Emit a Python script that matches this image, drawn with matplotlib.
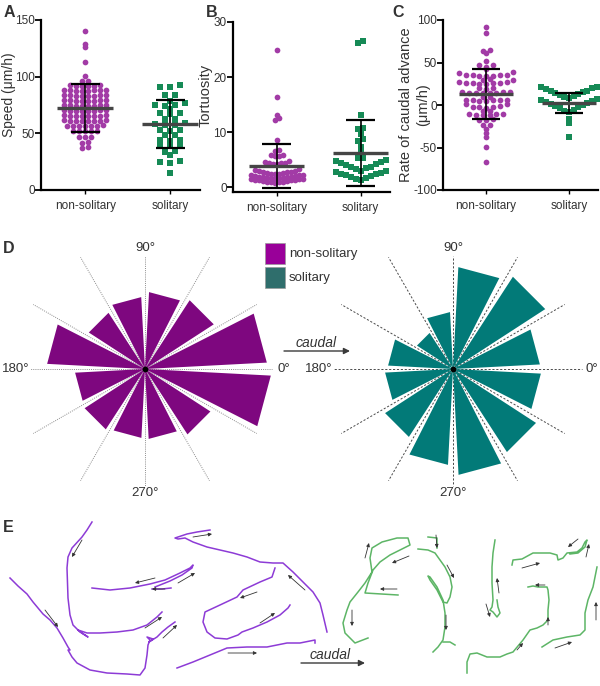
import numpy as np
import matplotlib
matplotlib.use('Agg')
import matplotlib.pyplot as plt

plt.rcParams['font.family'] = ['Liberation Sans', 'DejaVu Sans']
plt.rcParams['axes.unicode_minus'] = False

# ---------------- data ----------------
groups = ['non-solitary', 'solitary']

speed_ns = [140, 129, 126, 113, 101,
            96.5, 95.8,
            92.4, 92.0, 91.7, 92.6, 91.4, 92.2,
            87.8, 88.1, 87.4, 87.9, 88.3, 87.6, 87.2, 88.0,
            83.5, 83.1, 83.8, 82.9, 83.4, 83.0, 83.6, 83.3,
            78.9, 79.2, 78.6, 79.0, 78.8, 79.3, 78.5, 79.1,
            74.6, 74.2, 74.9, 74.4, 74.0, 74.7, 74.3, 74.8,
            70.1, 69.8, 70.3, 69.9, 70.4, 69.6, 70.0, 70.2,
            65.7, 65.4, 65.9, 65.2, 65.6, 65.8, 65.3, 65.5,
            61.2, 61.0, 61.4, 60.8, 61.3, 61.1, 60.9, 61.5,
            56.8, 56.5, 57.0, 56.6, 56.9, 56.4, 56.7,
            52.3, 52.0, 52.5, 51.9, 52.2,
            47.2, 46.8, 47.0,
            42.5, 41.9,
            38.0, 37.3]
speed_sol = [92.5, 91.2, 90.6, 84.0, 83.6, 78.6, 76.8, 75.3, 75.0, 74.2, 71.5,
             68.0, 67.6, 67.1, 63.0, 62.4, 58.8, 58.2, 57.6, 57.0, 53.2, 52.7,
             52.4, 48.8, 48.3, 44.5, 44.0, 43.6, 39.8, 39.4, 39.0, 34.2, 33.6,
             30.9, 25.3, 24.6, 23.4, 14.7]
speed_mean = [72.5, 58.5]
speed_sd = [21.0, 21.0]

tort_ns = [24.9, 16.4, 13.1, 12.5, 12.1, 8.5, 6.7, 6.6, 5.9, 5.8, 5.7, 5.6,
           4.7, 4.6, 4.4, 4.3, 4.3, 4.2, 4.2,
           3.2, 3.1, 3.0, 2.9, 2.8, 2.7, 2.7, 2.6, 2.5, 2.4, 2.4, 2.3, 2.2, 2.2,
           2.1, 2.0, 2.0, 1.9, 1.9, 1.8, 1.8, 1.7, 1.7, 1.6, 1.6, 1.5, 1.5, 1.4,
           1.4, 1.3, 1.3, 1.2, 1.2, 1.1, 1.1, 1.0, 1.0, 0.9, 0.9, 0.8]
tort_sol = [26.5, 26.1, 13.1, 10.7, 10.6, 9.6, 8.7, 8.4, 7.3, 6.4,
            5.3, 5.2, 4.9, 4.8, 4.5, 4.4, 4.1, 4.0, 3.7, 3.6, 3.4, 3.3, 3.0,
            2.9, 2.7, 2.6, 2.4, 2.3, 2.1, 2.0, 1.8, 1.7, 1.5, 1.3]
tort_mean = [3.8, 6.1]
tort_sd = [4.0, 6.0]

caud_ns = [92.2, 84.3, 64.7, 63.5, 60.8, 51.8, 47.5, 47.0, 45.0, 42.4,
           39.0, 38.2,
           35.8, 35.3, 34.6, 34.0, 35.0, 34.4, 35.5,
           30.5, 30.0, 29.2,
           26.8, 26.2, 25.5, 25.0, 24.6, 26.0, 25.3, 26.5,
           20.5, 19.8, 19.0,
           15.2, 14.8, 14.2, 13.9, 14.5, 15.0, 13.6, 14.0,
           9.8, 9.0,
           6.4, 6.0, 5.5, 5.0, 5.8, 6.2, 5.2,
           1.5, 0.8,
           -1.5, -2.0, -2.6, -3.0, -1.8,
           -6.5, -7.2,
           -10.5, -11.0, -11.6, -12.0, -10.8, -11.3,
           -16.0, -17.2, -18.0,
           -23.0, -24.0, -28.0,
           -33.0, -37.5, -49.0, -66.7]
caud_sol = [21.6, 20.8, 19.5, 18.6, 17.0, 16.2, 14.8, 13.9, 12.5, 11.8, 10.9,
            10.0, 8.8, 7.6, 6.2, 5.1, 3.8, 2.6, 1.4, 0.2, -1.2, -2.5, -3.9,
            -5.3, -6.6, -7.8, -16.5, -21.6, -37.3]
caud_mean = [12.5, 2.0]
caud_sd = [29.5, 11.8]

# rose diagrams: % of steps per 30-degree bin (bins start at 0, 30, ... 330 deg)
rose_bins_deg = [0, 30, 60, 90, 120, 150, 180, 210, 240, 270, 300, 330]
rose_ns = [12.2, 8.2, 7.7, 7.2, 6.7, 9.8, 7.0, 7.2, 6.9, 7.0, 7.8, 12.6]
rose_sol = [8.7, 11.0, 10.2, 5.7, 4.3, 6.5, 6.8, 8.1, 9.6, 10.6, 9.9, 8.8]

# example trajectories (drawing-plane coordinates)
ns_tracks_x = [
    [10, 18, 27, 33, 43, 50, 57, 63, 68, 70, 68, 72, 77, 90, 107, 127, 140, 145, 147, 148, 150, 147, 153, 149, 157, 162, 168, 175],
    [92, 87, 82, 72, 68, 67, 68, 70, 73, 80, 88, 82, 78, 87, 100, 117, 133, 147, 157, 162],
    [92, 110, 130, 150, 165, 180, 190, 193, 192, 182, 170, 160, 155],
    [152, 162, 171],
    [210, 197, 187, 175, 178, 185, 193, 207, 220, 233, 247, 260, 273, 283, 293, 303, 313, 320, 323, 327],
    [275, 272, 260, 243, 237, 220, 205, 203, 207, 215, 227, 238, 242, 253, 267, 280, 288, 290],
    [177, 193, 210, 227, 247, 267, 287, 300, 315, 315],
]
ns_tracks_y = [
    [578, 586, 594, 602, 614, 620, 628, 638, 647, 650, 650, 657, 663, 670, 673, 674, 675, 668, 655, 645, 640, 637, 639, 642, 637, 632, 627, 622],
    [522, 530, 537, 548, 557, 568, 598, 615, 625, 632, 637, 633, 630, 633, 633, 632, 630, 625, 617, 612],
    [588, 590, 588, 584, 580, 573, 568, 565, 568, 575, 581, 585, 587],
    [589, 589, 588],
    [530, 532, 534, 538, 539, 538, 542, 547, 550, 553, 557, 562, 563, 563, 572, 582, 592, 603, 615, 632],
    [568, 577, 582, 590, 597, 605, 612, 622, 632, 638, 639, 635, 632, 628, 622, 615, 608, 605],
    [668, 662, 655, 648, 647, 647, 643, 643, 640, 643],
]
ns_arrows_x0 = [82, 45, 155, 165, 145, 178, 163, 193, 305, 257, 260, 228]
ns_arrows_y0 = [540, 610, 578, 589, 628, 583, 638, 537, 590, 592, 623, 653]
ns_arrows_x1 = [72, 58, 135, 152, 162, 195, 177, 212, 288, 240, 275, 257]
ns_arrows_y1 = [557, 627, 583, 589, 617, 573, 625, 534, 575, 598, 613, 653]

sol_tracks_x = [
    [368, 355, 345, 343, 347, 350, 358, 365, 372, 370, 372, 382, 397, 408, 410, 400, 390, 380, 373, 368, 365, 398],
    [418, 428, 435, 440, 445, 450, 452, 450, 447, 443, 437, 430, 428, 430, 437, 443, 445, 445, 443, 438, 433],
    [428, 437, 437],
    [443, 450, 455],
    [495, 493, 492, 492, 493, 492, 490, 493, 497, 500, 498, 497],
    [467, 467, 470, 477, 487, 500, 507, 513, 523, 530, 537, 543, 548, 548, 549, 548, 547, 538, 533, 528],
    [512, 513, 522, 533, 540, 550, 557, 558, 563, 567, 577, 582, 585, 587, 585, 578, 570],
    [542, 553, 567, 580, 585, 585, 588, 593, 595, 597],
]
sol_tracks_y = [
    [638, 643, 633, 623, 610, 602, 592, 583, 572, 558, 548, 542, 538, 538, 545, 550, 555, 562, 570, 583, 593, 595],
    [549, 550, 553, 560, 567, 577, 587, 597, 603, 602, 590, 580, 576, 577, 587, 600, 613, 627, 640, 647, 652],
    [537, 538, 548],
    [642, 642, 645],
    [540, 553, 567, 583, 600, 607, 610, 612, 617, 613, 607, 600],
    [673, 662, 654, 653, 657, 657, 654, 652, 640, 630, 628, 625, 620, 610, 600, 590, 587, 587, 586, 587],
    [565, 560, 559, 553, 553, 553, 555, 560, 558, 553, 552, 548, 542, 540, 547, 553, 554],
    [647, 640, 637, 635, 630, 613, 600, 587, 577, 567],
]
sol_arrows_x0 = [365, 409, 397, 352, 436, 447, 446, 499, 486, 517, 548, 545, 522, 578, 586, 555, 596]
sol_arrows_y0 = [558, 556, 589, 610, 535, 565, 615, 593, 604, 650, 625, 585, 568, 539, 557, 648, 620]
sol_arrows_x1 = [369, 392, 380, 352, 437, 454, 446, 497, 490, 523, 548, 535, 540, 568, 589, 572, 596]
sol_arrows_y1 = [543, 563, 589, 626, 548, 578, 630, 578, 617, 643, 617, 585, 563, 547, 544, 642, 602]

# ---------------- style ----------------
W, H = 600, 686
PURPLE_DOT = '#a23ba6'
GREEN_SQ = '#168a56'
ROSE_PURPLE = '#7e077f'
ROSE_TEAL = '#027a78'
LEG_PURPLE = '#990099'
LEG_TEAL = '#2f6e6c'
TRACK_PURPLE = '#8d3bd6'
TRACK_GREEN = '#5db566'
TXT = '#333333'

fig = plt.figure(figsize=(W / 100, H / 100), dpi=100)


def px_axes(l, t, r, b, **kw):
    return fig.add_axes([l / W, 1 - b / H, (r - l) / W, (b - t) / H], **kw)


def swarm(vals, center, ax, wpx, dot, per_row, gap):
    """Prism-style scatter: group close values into rows, spread each row centre-out."""
    xlim = ax.get_xlim()
    xpp = (xlim[1] - xlim[0]) / wpx
    v = np.asarray(vals, float)
    order = np.argsort(v, kind='stable')
    clusters, cur = [], [order[0]]
    for i in order[1:]:
        if v[i] - v[cur[-1]] > gap:
            clusters.append(cur)
            cur = [i]
        else:
            cur.append(i)
    clusters.append(cur)
    x = np.empty(len(v))
    for cl in clusters:
        for k in range(0, len(cl), per_row):
            chunk = np.array(cl[k:k + per_row])
            n = len(chunk)
            slots = (np.arange(n) - (n - 1) / 2) * dot * xpp
            so = np.argsort(np.abs(slots), kind='stable')
            x[chunk] = center + slots[so]
    return x


def dot_panel(box, ns, sol, mean, sd, ylim, yticks, ylabel, lab_xy, sw_ns, sw_sol,
              label2=None, lab_fs=10.5):
    l, t, r, b = box
    ax = px_axes(l, t, r, b)
    ax.set_facecolor('none')
    ax.set_xlim(-0.52, 1.35)
    ax.set_ylim(*ylim)
    wpx = r - l
    x0 = swarm(ns, 0, ax, wpx, *sw_ns)
    x1 = swarm(sol, 1, ax, wpx, *sw_sol)
    ax.scatter(x0, ns, s=17, marker='o', color=PURPLE_DOT, linewidths=0, zorder=2, clip_on=False)
    ax.scatter(x1, sol, s=16, marker='s', color=GREEN_SQ, linewidths=0, zorder=2, clip_on=False)
    for i, (m, s) in enumerate(zip(mean, sd)):
        ax.plot([i, i], [m - s, m + s], color='black', lw=1.2, zorder=3, clip_on=False)
        for yy in (m - s, m + s):
            ax.plot([i - 0.17, i + 0.17], [yy, yy], color='black', lw=1.6, zorder=3,
                    solid_capstyle='butt', clip_on=False)
        ax.plot([i - 0.33, i + 0.33], [m, m], color='#454545', lw=2.4, zorder=4,
                solid_capstyle='butt', clip_on=False)
    for sp in ('top', 'right'):
        ax.spines[sp].set_visible(False)
    for sp in ('left', 'bottom'):
        ax.spines[sp].set_linewidth(1.6)
        ax.spines[sp].set_color('black')
    ax.set_yticks(yticks)
    ax.set_yticklabels([str(v) for v in yticks])
    ax.set_xticks([0, 1])
    ax.set_xticklabels(groups)
    ax.tick_params(axis='y', length=4, width=1.3, labelsize=8.5, colors='black', labelcolor=TXT, pad=0.5)
    ax.tick_params(axis='x', length=3, width=1.0, labelsize=8.5, colors='black', labelcolor=TXT, pad=4)
    ax.set_ylabel(ylabel, fontsize=lab_fs, color=TXT)
    ax.yaxis.set_label_coords(*lab_xy)
    if label2 is not None:
        txt, x2 = label2
        ax.text(x2, 0.5, txt, transform=ax.transAxes, rotation=90, ha='right', va='center',
                fontsize=lab_fs, color=TXT)
    return ax


# swarm params: (dot spacing px, points per row, gap that starts a new row)
dot_panel((41, 20, 200, 190), speed_ns, speed_sol, speed_mean, speed_sd,
          (0, 150), [0, 50, 100, 150], 'Speed (\u03bcm/h)', (-0.156, 0.56),
          (6.0, 10, 1.5), (10.0, 4, 1.5), lab_fs=10)
dot_panel((233, 22, 390, 192), tort_ns, tort_sol, tort_mean, tort_sd,
          (-0.9, 30), [0, 10, 20, 30], 'Tortuosity', (-0.13, 0.57),
          (4.0, 14, 0.45), (5.0, 11, 0.45))
dot_panel((443, 20, 598, 190), caud_ns, caud_sol, caud_mean, caud_sd,
          (-100, 100), [-100, -50, 0, 50, 100], 'Rate of caudal advance',
          (-0.195, 0.5), (6.8, 9, 2.5), (4.6, 13, 2.5),
          label2=('(\u03bcm/h)', -0.082))

# ---------------- rose diagrams ----------------
def rose(cx, cy, vals, color, line_kw, lens, lab_r):
    R = 140
    ax = px_axes(cx - R, cy - R, cx + R, cy + R, projection='polar')
    ax.set_ylim(0, 14)
    ax.set_axis_off()
    for deg in range(0, 360, 30):
        L = lens.get(deg, 12.9)
        ax.plot([np.deg2rad(deg)] * 2, [0, L], zorder=1, **line_kw)
    gap = 3.0
    for start, v in zip(rose_bins_deg, vals):
        t0 = np.deg2rad(start + gap)
        t1 = np.deg2rad(start + 30 - gap)
        ax.fill([t0, t0, t1], [0, v, v], color=color, lw=0, zorder=2)
    ax.scatter([0], [0], s=10, color='black', zorder=3)
    kw = dict(fontsize=9.5, color=TXT)
    ax.text(0, lab_r[0], '0\u00b0', ha='left', va='center', **kw)
    ax.text(np.pi / 2, lab_r[1], '90\u00b0', ha='center', va='center', **kw)
    ax.text(np.pi, lab_r[2], '180\u00b0', ha='right', va='center', **kw)
    ax.text(3 * np.pi / 2, lab_r[3], '270\u00b0', ha='center', va='center', **kw)
    return ax


rose(145, 369, rose_ns, ROSE_PURPLE,
     dict(color='#8c8c8c', lw=0.7, linestyle=(0, (1, 1.2))),
     {0: 12.7, 90: 11.3, 180: 11.5, 270: 11.7}, (13.3, 12.1, 11.6, 12.4))
rose(453, 369, rose_sol, ROSE_TEAL,
     dict(color='#4a4a4a', lw=0.7, linestyle=(0, (2.2, 1.8))),
     {0: 12.9, 90: 11.3, 180: 12.0, 270: 11.7}, (13.3, 12.1, 12.1, 12.4))

# ---------------- overlay: letters, legend, arrows, tracks ----------------
ov = fig.add_axes([0, 0, 1, 1])
ov.set_xlim(0, W)
ov.set_ylim(H, 0)
ov.set_axis_off()

for letter, (x, y) in zip('ABCDE', [(4, 5), (206, 5), (392, 5), (3, 241), (3, 520)]):
    ov.text(x, y, letter, fontsize=11.5, fontweight='bold', color=TXT, ha='left', va='top')

# legend
for (y0, fc, lab) in [(243, LEG_PURPLE, 'non-solitary'), (267, LEG_TEAL, 'solitary')]:
    ov.add_patch(plt.Rectangle((265, y0), 20, 21, facecolor=fc, edgecolor='#9a9a9a', lw=0.5))
    ov.text(289, y0 + 11, lab, fontsize=9.5, color=TXT, ha='left', va='center')

# caudal arrows
for (tx, ty, ax0, ax1, ay) in [(316, 347, 284, 350, 351), (330, 659, 301, 365, 663)]:
    ov.text(tx, ty, 'caudal', fontsize=10, style='italic', color=TXT, ha='center', va='baseline')
    ov.annotate('', xy=(ax1, ay), xytext=(ax0, ay),
                arrowprops=dict(arrowstyle='-|>', color='#3a3a3a', lw=1.0,
                                mutation_scale=9, shrinkA=0, shrinkB=0))

for xs, ys in zip(ns_tracks_x, ns_tracks_y):
    ov.plot(xs, ys, color=TRACK_PURPLE, lw=1.1, solid_joinstyle='round')
for xs, ys in zip(sol_tracks_x, sol_tracks_y):
    ov.plot(xs, ys, color=TRACK_GREEN, lw=1.1, solid_joinstyle='round')

for X0, Y0, X1, Y1 in [(ns_arrows_x0, ns_arrows_y0, ns_arrows_x1, ns_arrows_y1),
                       (sol_arrows_x0, sol_arrows_y0, sol_arrows_x1, sol_arrows_y1)]:
    for x0, y0, x1, y1 in zip(X0, Y0, X1, Y1):
        ov.annotate('', xy=(x1, y1), xytext=(x0, y0),
                    arrowprops=dict(arrowstyle='-|>', color='#333333', lw=0.6,
                                    mutation_scale=5, shrinkA=0, shrinkB=0))

fig.savefig('out.png', dpi=100)
